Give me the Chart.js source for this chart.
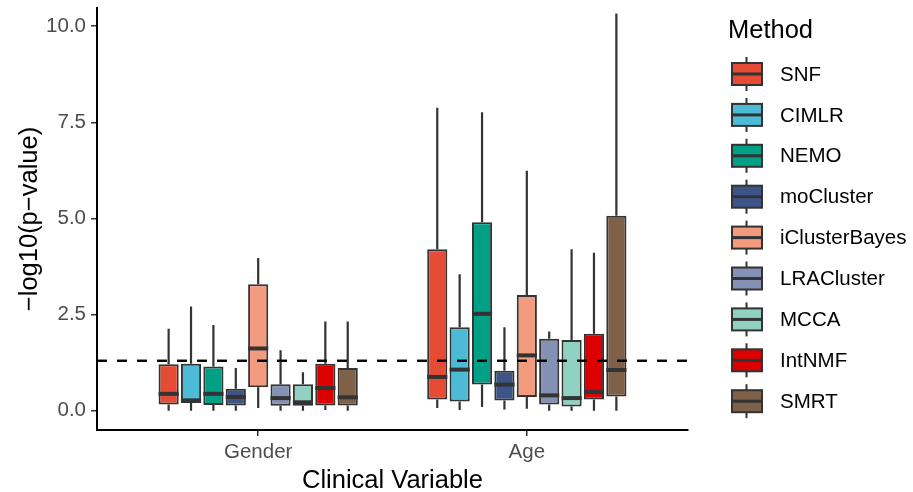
<!DOCTYPE html>
<html>
<head>
<meta charset="utf-8">
<script src="https://cdn.jsdelivr.net/npm/chart.js@4"></script>
<style>
  body { margin: 0; background: #fff; }
  #wrap { width: 913px; height: 492px; }
</style>
</head>
<body>
<div id="wrap"><canvas id="boxChart" width="913" height="492"></canvas></div>
<script>
const groups = ['Gender', 'Age'];
const methods = ['SNF', 'CIMLR', 'NEMO', 'moCluster', 'iClusterBayes', 'LRACluster', 'MCCA', 'IntNMF', 'SMRT'];
const colors = ['#E64B35', '#4DBBD5', '#00A087', '#3C5488', '#F39B7F', '#8491B4', '#91D1C2', '#DC0000', '#7E6148'];

// [lower whisker, Q1, median, Q3, upper whisker], one row per method
const genderStats = [
  [0.00, 0.16, 0.44, 1.21, 2.13],
  [0.00, 0.20, 0.27, 1.22, 2.71],
  [0.00, 0.15, 0.44, 1.15, 2.23],
  [0.00, 0.14, 0.36, 0.57, 1.11],
  [0.07, 0.61, 1.62, 3.29, 3.97],
  [0.00, 0.13, 0.33, 0.69, 1.57],
  [0.00, 0.13, 0.22, 0.69, 1.00],
  [0.02, 0.14, 0.59, 1.22, 2.32],
  [0.00, 0.14, 0.35, 1.11, 2.32],
];
const ageStats = [
  [0.07, 0.29, 0.88, 4.20, 7.88],
  [0.02, 0.24, 1.07, 2.17, 3.55],
  [0.10, 0.68, 2.52, 4.90, 7.76],
  [0.03, 0.27, 0.68, 1.04, 2.17],
  [0.05, 0.36, 1.44, 3.01, 6.24],
  [0.00, 0.16, 0.40, 1.87, 2.06],
  [0.00, 0.11, 0.33, 1.84, 4.20],
  [0.00, 0.29, 0.49, 2.00, 4.11],
  [0.00, 0.37, 1.06, 5.07, 10.33],
];

const yTicks = [0, 2.5, 5, 7.5, 10];
const cutoff = 1.3; // -log10(0.05)

const FONT = '"Liberation Sans", Arial, sans-serif';
const LINE = '#333333';

const datasets = methods.map((m, i) => ({
  label: m,
  stats: [genderStats[i], ageStats[i]],
  data: [genderStats[i], ageStats[i]].map((s, g) => ({ x: g + 1, y: [s[1], s[3]] })),
  backgroundColor: colors[i],
  borderColor: LINE,
  borderWidth: 2,
  borderSkipped: false,
}));

// whiskers behind the boxes, medians + cutoff line on top, legend at the right
const boxParts = {
  id: 'boxParts',
  beforeDatasetsDraw(chart) {
    const { ctx, chartArea: a } = chart;
    const y = chart.scales.y;
    ctx.save();
    ctx.beginPath();
    ctx.rect(a.left, a.top, a.right - a.left, a.bottom - a.top);
    ctx.clip();
    ctx.strokeStyle = LINE;
    ctx.lineWidth = 2.2;
    chart.data.datasets.forEach((ds, i) => {
      chart.getDatasetMeta(i).data.forEach((bar, j) => {
        const s = ds.stats[j];
        ctx.beginPath();
        ctx.moveTo(bar.x, y.getPixelForValue(s[0]));
        ctx.lineTo(bar.x, y.getPixelForValue(s[1]));
        ctx.moveTo(bar.x, y.getPixelForValue(s[3]));
        ctx.lineTo(bar.x, y.getPixelForValue(s[4]));
        ctx.stroke();
      });
    });
    ctx.restore();
  },
  afterDatasetsDraw(chart) {
    const { ctx, chartArea: a } = chart;
    const y = chart.scales.y;
    ctx.save();
    ctx.strokeStyle = LINE;
    ctx.lineWidth = 4;
    chart.data.datasets.forEach((ds, i) => {
      chart.getDatasetMeta(i).data.forEach((bar, j) => {
        const py = y.getPixelForValue(ds.stats[j][2]);
        ctx.beginPath();
        ctx.moveTo(bar.x - bar.width / 2, py);
        ctx.lineTo(bar.x + bar.width / 2, py);
        ctx.stroke();
      });
    });
    // significance cutoff
    const cy = y.getPixelForValue(cutoff);
    ctx.strokeStyle = '#000';
    ctx.lineWidth = 2.4;
    ctx.setLineDash([10, 10]);
    ctx.beginPath();
    ctx.moveTo(a.left, cy);
    ctx.lineTo(a.right, cy);
    ctx.stroke();
    ctx.restore();
  },
  afterDraw(chart) {
    const ctx = chart.ctx;
    ctx.save();
    ctx.fillStyle = '#000';
    ctx.textBaseline = 'middle';
    ctx.textAlign = 'left';
    ctx.font = '25.5px ' + FONT;
    ctx.fillText('Method', 728, 31);
    ctx.font = '20.5px ' + FONT;
    methods.forEach((m, i) => {
      const cy = 74 + i * 40.9;
      ctx.strokeStyle = LINE;
      ctx.lineWidth = 2;
      ctx.beginPath();
      ctx.moveTo(746.5, cy - 17);
      ctx.lineTo(746.5, cy + 17);
      ctx.stroke();
      ctx.fillStyle = colors[i];
      ctx.fillRect(732, cy - 11, 30, 22);
      ctx.strokeRect(732, cy - 11, 30, 22);
      ctx.lineWidth = 3;
      ctx.beginPath();
      ctx.moveTo(732, cy);
      ctx.lineTo(762, cy);
      ctx.stroke();
      ctx.fillStyle = '#000';
      ctx.fillText(m, 780, cy + 1);
    });
    ctx.restore();
  },
};

new Chart(document.getElementById('boxChart'), {
  type: 'bar',
  data: { datasets },
  plugins: [boxParts],
  options: {
    responsive: false,
    animation: false,
    events: [],
    categoryPercentage: 0.75,
    barPercentage: 0.9,
    layout: { padding: { left: 0, top: 8, right: 225, bottom: 0 } },
    plugins: { legend: { display: false }, tooltip: { enabled: false } },
    scales: {
      x: {
        type: 'linear',
        min: 0.4,
        max: 2.6,
        offset: false,
        afterBuildTicks: (s) => { s.ticks = groups.map((g, i) => ({ value: i + 1 })); },
        afterFit: (s) => { s.height = 62; s.paddingLeft = 0; s.paddingRight = 0; },
        ticks: {
          callback: (v) => groups[v - 1],
          color: '#4D4D4D',
          font: { family: FONT, size: 20.5 },
          padding: 4,
          autoSkip: false,
          maxRotation: 0,
        },
        grid: { drawOnChartArea: false, tickLength: 6, color: LINE, lineWidth: 1.5, offset: false },
        border: { display: true, color: '#000', width: 2 },
        title: {
          display: true,
          text: 'Clinical Variable',
          color: '#000',
          font: { family: FONT, size: 25.5, lineHeight: 1 },
          padding: { top: 0, bottom: -2 },
        },
      },
      y: {
        min: -0.5,
        max: 10.47,
        afterBuildTicks: (s) => { s.ticks = yTicks.map((v) => ({ value: v })); },
        afterFit: (s) => { s.width = 97; s.paddingTop = 0; s.paddingBottom = 0; },
        ticks: {
          callback: (v) => v.toFixed(1),
          color: '#4D4D4D',
          font: { family: FONT, size: 20.5 },
          padding: 5,
        },
        grid: { drawOnChartArea: false, tickLength: 6, color: LINE, lineWidth: 1.5 },
        border: { display: true, color: '#000', width: 2 },
        title: {
          display: true,
          text: '\u2212log10(p\u2212value)',
          color: '#000',
          font: { family: FONT, size: 25.5, lineHeight: 1 },
          padding: { top: 17, bottom: 0 },
        },
      },
    },
  },
});
</script>
</body>
</html>
